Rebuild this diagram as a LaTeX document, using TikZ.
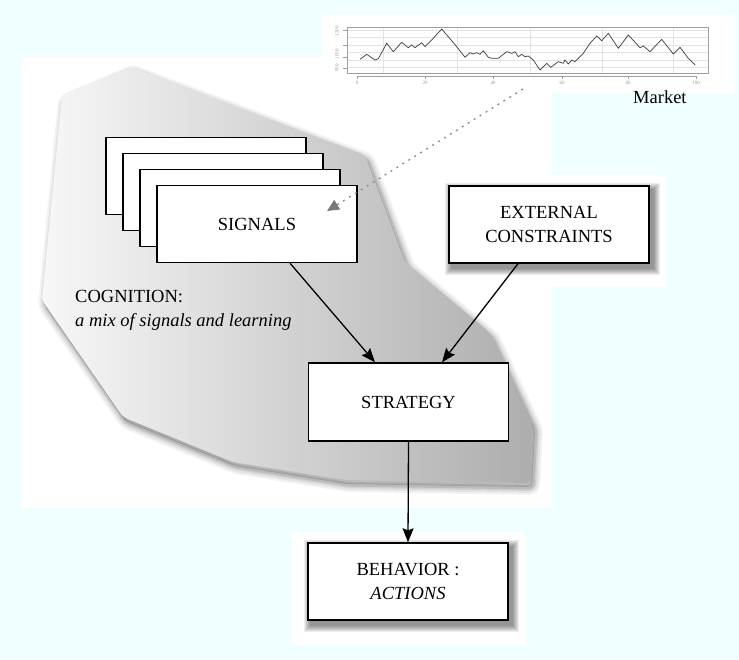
\documentclass[tikz,border=0pt]{standalone}
\usepackage{fontspec}
\setmainfont{Liberation Serif}
\usetikzlibrary{arrows.meta,calc}

\definecolor{pagebg}{RGB}{240,255,255}
\definecolor{chartink}{RGB}{60,60,60}
\newcommand\labelfont{\fontsize{18.5}{24}\selectfont}
\newcommand\tickfont{\fontsize{5}{6}\selectfont}

% outline of the cognition area
\newcommand\cognitionshape[1]{%
  \path[#1] (62,96) -- (130,67) -- (365,155) -- (405,262) -- (490,333)
    -- (533,425) -- (530,483) -- (345,480) -- (233,462) -- (123,417)
    -- (42,300) -- cycle;}

% soft drop shadow under a box
\newcommand\boxshade[1]{%
  \foreach \g in {7,6,...,1}{%
    \fill[black,opacity=.07] ($(#1.north west)+(4-\g,5-\g)$)
      rectangle ($(#1.south east)+(3+\g,4+\g)$);}}

\pgfdeclarelayer{back}
\pgfdeclarelayer{shade}
\pgfsetlayers{back,shade,main}

\begin{document}
\begin{tikzpicture}[x=1pt,y=-1pt,
  box/.style={draw=black,line width=1.4pt,fill=white,minimum width=200pt,
    minimum height=77pt,inner sep=0pt,align=center,font=\labelfont},
  flow/.style={line width=1.3pt,draw=black,
    -{Stealth[length=14pt,width=11pt,inset=2pt]}},
  feed/.style={line width=1.3pt,draw=gray!90,dash pattern=on 2pt off 5pt,
    -{Triangle[length=12pt,width=11pt,fill=gray!95!black,color=gray!95!black]}},
  gridline/.style={draw=gray!22,line width=.4pt},
  axisline/.style={draw=gray!75,line width=.5pt},
  ticklabel/.style={font=\tickfont,text=gray!80,inner sep=0pt}]

\useasboundingbox (0,0) rectangle (739,659);

\begin{pgfonlayer}{back}
  % page and white panels
  \fill[pagebg] (0,0) rectangle (739,659);
  \fill[white] (22,57) rectangle (552,508);
  \fill[white] (323,15) rectangle (735,93);
  \fill[white] (432,175) rectangle (666,287);
  \fill[white] (292,532) rectangle (525,645);

  % cognition area with its soft shadow
  \foreach \w/\o in {14/.05,10/.06,6/.08,3/.1}{%
    \cognitionshape{draw=black,draw opacity=\o,line width=\w pt,
      line join=round,rounded corners=4pt,shift={(3,5)}}}
  \cognitionshape{fill=black,fill opacity=.18,rounded corners=4pt,shift={(2,4)}}
  \cognitionshape{left color=black!3,right color=black!32,rounded corners=4pt}

  % market chart
  \foreach \yy in {30,37.5,45,52.5,60,67.5}
    \draw[gridline] (347,\yy) -- (708,\yy);
  \foreach \xx in {383,457,530,602,673}
    \draw[gridline] (\xx,27) -- (\xx,73);
  \draw[axisline] (347,27) rectangle (708,73);
  \draw[axisline] (347,30) -- (347,68);
  \foreach \yy in {30,45,57,68}
    \draw[axisline] (343,\yy) -- (347,\yy);
  \node[ticklabel,rotate=90] (ylabA) at (337,31) {1200};
  \node[ticklabel,rotate=90] (ylabB) at (337,54) {1050};
  \node[ticklabel,rotate=90] (ylabC) at (337,68) {950};
  \draw[axisline] (357,76) -- (696,76);
  \foreach \xx/\lab [count=\i] in {357/0,425/20,493/40,562/60,628/80,696/100}{%
    \draw[axisline] (\xx,76) -- (\xx,79);
    \node[ticklabel] (xlab\i) at (\xx,83) {\lab};}
  \draw[chartink,line width=.7pt,line join=round] plot coordinates {
    (360,59.3) (366.7,54.3) (375,60) (378.3,58.7) (386.7,43.3) (393.3,51.7)
    (401.7,42.3) (408.3,47.7) (411.7,45) (415,47.7) (421.7,42.7) (425,46.7)
    (433.3,38.3) (441.7,29) (448.3,36.7) (456.7,46.7) (465,57.3) (470,52.7)
    (473.3,54) (476.7,52.7) (480,54.3) (483.3,50.7) (488.3,57.3) (491.7,58.3)
    (498.3,58.3) (506.7,51.7) (511.7,53.3) (515,51.7) (518.3,56.7) (521.7,54.3)
    (525,56.7) (528.3,56) (533.3,60) (540,70) (546.7,63.3) (550.7,67.3)
    (558.3,61.7) (563.3,63.3) (565,60) (568.3,64) (571.7,60) (575,61.7)
    (583.3,53.3) (590,43.3) (596.7,36) (601.7,40.7) (608.3,33.3) (618.3,48.3)
    (628.3,35) (640,47.7) (643.3,46) (650,51.7) (661.7,39.3) (673.3,54)
    (680,47.3) (688.3,58.3) (695,65)};
\end{pgfonlayer}

\node[font=\labelfont,anchor=base west,inner sep=0pt] (market) at (633,103) {Market};

% signal stack
\node[box] (sigA) at (206,176) {};
\node[box] (sigB) at (223,192) {};
\node[box] (sigC) at (240,208) {};
\node[box] (sigD) at (257,224) {SIGNALS};

\node[box] (ext) at (549,224.5) {EXTERNAL\\CONSTRAINTS};
\node[box,minimum height=78pt] (strat) at (408.5,402) {STRATEGY};
\node[box] (beh) at (408,581.5) {BEHAVIOR :\\\textit{ACTIONS}};

\node[font=\labelfont,anchor=west,align=left,inner sep=0pt] (cog) at (75,310)
  {COGNITION:\\\textit{a mix of signals and learning}};

\begin{pgfonlayer}{shade}
  \boxshade{ext}
  \boxshade{beh}
\end{pgfonlayer}

% connectors
\coordinate (mk) at (523,89);
\coordinate (sigin) at (327,211);
\draw[feed] (mk) -- (sigin);
\draw[flow] ($(sigD.south)+(33,0)$) -- ($(strat.north)+(-33.5,0)$);
\draw[flow] ($(ext.south)+(-31,0)$) -- ($(strat.north)+(33.5,0)$);
\draw[flow] (strat.south) -- (beh.north);
\end{tikzpicture}
\end{document}
